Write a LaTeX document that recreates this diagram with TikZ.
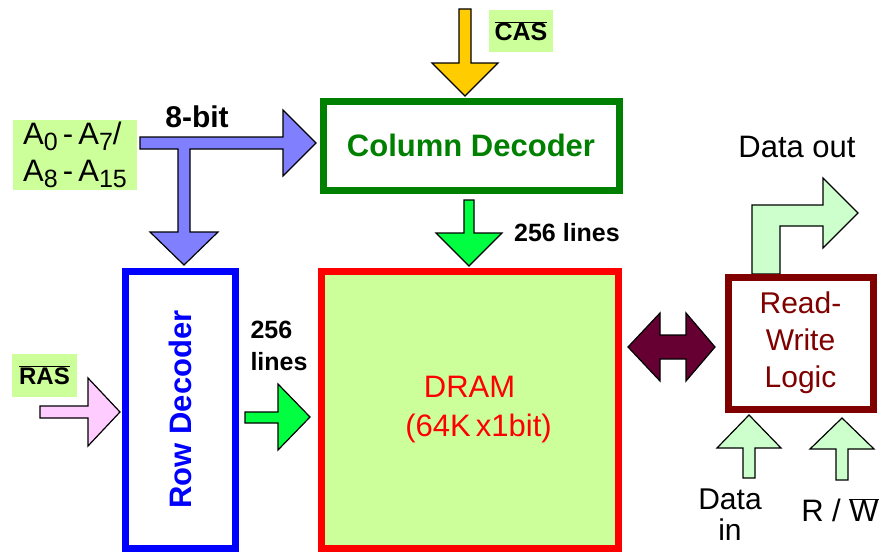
\documentclass[tikz,border=0pt]{standalone}
\usepackage{fontspec}
\setmainfont{Liberation Sans}

\definecolor{lblgreen}{RGB}{204,255,153}
\definecolor{colgreen}{RGB}{0,128,0}
\definecolor{rowblue}{RGB}{0,0,255}
\definecolor{dramred}{RGB}{255,0,0}
\definecolor{rwred}{RGB}{128,0,0}
\definecolor{busblue}{RGB}{128,128,255}
\definecolor{casyellow}{RGB}{255,204,0}
\definecolor{linegreen}{RGB}{0,255,64}
\definecolor{raspink}{RGB}{255,204,255}
\definecolor{busmaroon}{RGB}{102,0,51}
\definecolor{palegreen}{RGB}{204,255,204}

\newcommand{\fsz}[1]{\fontsize{#1}{#1}\selectfont}
\newcommand{\ix}[1]{\raisebox{-0.35ex}{\fontsize{25}{25}\selectfont #1}}
\newcommand{\ovl}[1]{$\overline{\mbox{#1}}$}

\begin{document}
\begin{tikzpicture}[x=1pt, y=-1pt,
    box/.style={draw, line width=7pt, inner sep=0pt},
    lbl/.style={fill=lblgreen, inner sep=0pt},
    blk/.style={draw=black, line width=1.2pt, line join=miter}]
  \useasboundingbox (0,0) rectangle (882,551);

  % Block arrows
  \filldraw[blk, fill=casyellow]
    (459,9) -- (459,63) -- (432,63) -- (465,96) -- (498,63) -- (471,63) -- (471,9) -- cycle;
  \filldraw[blk, fill=linegreen]
    (464,200) -- (464,233) -- (436,233) -- (469,266) -- (502,233) -- (474,233) -- (474,200) -- cycle;
  \filldraw[blk, fill=busblue]
    (140,137) -- (283,137) -- (283,110) -- (316,143) -- (283,176) -- (283,149)
    -- (190,149) -- (190,232) -- (218,232) -- (184,265) -- (150,232) -- (178,232)
    -- (178,149) -- (140,149) -- cycle;
  \filldraw[blk, fill=raspink]
    (40,406) -- (88,406) -- (88,378) -- (120,412) -- (88,446) -- (88,418) -- (40,418) -- cycle;
  \filldraw[blk, fill=linegreen]
    (245,412) -- (278,412) -- (278,384) -- (310,417) -- (278,450) -- (278,423) -- (245,423) -- cycle;
  \filldraw[blk, fill=busmaroon]
    (628,347) -- (660,313) -- (660,335) -- (686,335) -- (686,313) -- (715,347)
    -- (686,381) -- (686,359) -- (660,359) -- (660,381) -- cycle;
  \filldraw[blk, fill=palegreen]
    (752,274) -- (752,205) -- (823,205) -- (823,178) -- (858,213) -- (823,248)
    -- (823,226) -- (780,226) -- (780,274) -- cycle;
  \filldraw[blk, fill=palegreen]
    (743,478) -- (743,448) -- (717,448) -- (749,415) -- (781,448) -- (755,448) -- (755,478) -- cycle;
  \filldraw[blk, fill=palegreen]
    (836,480) -- (836,449) -- (810,449) -- (842,418) -- (874,449) -- (848,449) -- (848,480) -- cycle;

  % Blocks
  \node[box, draw=colgreen, fill=white, text=colgreen, font=\bfseries\fsz{31},
    minimum width=296pt, minimum height=89pt] (coldec) at (471,145.5) {Column Decoder};
  \node[box, draw=rowblue, fill=white, text=rowblue, font=\bfseries\fsz{31}, rotate=90,
    minimum width=277pt, minimum height=110pt] (rowdec) at (180,409.5) {Row Decoder};
  \node[box, draw=dramred, fill=lblgreen, text=dramred, font=\fontsize{31}{39}\selectfont,
    align=center, minimum width=297pt, minimum height=277pt] (dram) at (469.5,409.5)
    {DRAM\\ \hspace*{18pt}(64K\,x1bit)};
  \node[box, draw=rwred, fill=white, text=rwred, font=\fontsize{30}{37}\selectfont,
    align=center, minimum width=145pt, minimum height=132pt] (rwlogic) at (800.5,343)
    {Read-\\Write\\Logic};

  % Labels
  \node[lbl, minimum width=124pt, minimum height=70pt, align=left,
    font=\fontsize{31}{37}\selectfont] (addr) at (75,155)
    {A\ix{0}\,-\,A\ix{7}/\\A\ix{8}\,-\,A\ix{15}};
  \node[lbl, minimum width=64pt, minimum height=42pt, font=\bfseries\fsz{25}] (cas) at (521,31) {\ovl{CAS}};
  \node[lbl, minimum width=65pt, minimum height=43pt, font=\bfseries\fsz{24}] (ras) at (44.5,375.5) {\ovl{RAS}};
  \node[font=\bfseries\fsz{30}] (bits) at (197,117) {8-bit};
  \node[font=\bfseries\fsz{25}] (collines) at (567,233) {256 lines};
  \node[font=\bfseries\fontsize{25}{32}\selectfont, align=left] (rowlines) at (279,346) {256\\lines};
  \node[font=\fsz{31}] (dout) at (797,147) {Data out};
  \node[font=\fontsize{30}{31}\selectfont, align=center] (din) at (730,515) {Data\\in};
  \node[font=\fsz{31}] (rw) at (840,510) {R / \ovl{W}};
\end{tikzpicture}
\end{document}
